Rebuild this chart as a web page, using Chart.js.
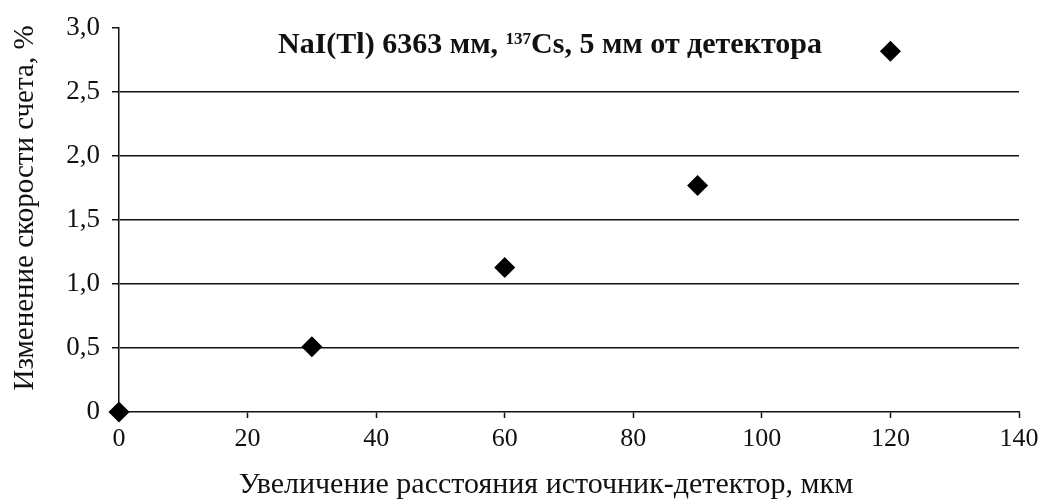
<!DOCTYPE html>
<html>
<head>
<meta charset="utf-8">
<script src="https://cdn.jsdelivr.net/npm/chart.js@4/dist/chart.umd.min.js"></script>
<style>
  html, body { margin: 0; padding: 0; background: #fff; }
  #wrap { width: 1047px; height: 501px; position: relative; }
</style>
</head>
<body>
<div id="wrap"><canvas id="c"></canvas></div>
<script>
const xValues = [0, 30, 60, 90, 120];
const yValues = [0, 0.51, 1.13, 1.77, 2.82];
const xTicks = [0, 20, 40, 60, 80, 100, 120, 140];
const yTicks = [0, 0.5, 1.0, 1.5, 2.0, 2.5, 3.0];
const titleMain = 'NaI(Tl) 6363 мм, ';
const titleSup = '137';
const titleRest = 'Cs, 5 мм от детектора';
const xTitle = 'Увеличение расстояния источник-детектор, мкм';
const yTitle = 'Изменение скорости счета, %';

const SERIF = '"Liberation Serif", "DejaVu Serif", serif';

const textPlugin = {
  id: 'texts',
  afterDraw(chart) {
    const ctx = chart.ctx;
    ctx.save();
    ctx.fillStyle = '#111';
    ctx.textBaseline = 'alphabetic';
    // inner title
    const big = 'bold 30px ' + SERIF;
    const small = 'bold 17px ' + SERIF;
    ctx.font = big;
    const w1 = ctx.measureText(titleMain).width;
    const w3 = ctx.measureText(titleRest).width;
    ctx.font = small;
    const w2 = ctx.measureText(titleSup).width;
    const total = w1 + w2 + w3;
    const cx = 550, by = 53;
    let x = cx - total / 2;
    ctx.textAlign = 'left';
    ctx.font = big;
    ctx.fillText(titleMain, x, by); x += w1;
    ctx.font = small;
    ctx.fillText(titleSup, x, by - 9); x += w2;
    ctx.font = big;
    ctx.fillText(titleRest, x, by);
    // axis titles
    ctx.textAlign = 'center';
    ctx.font = '30px ' + SERIF;
    ctx.fillText(xTitle, 546, 493);
    ctx.font = '29px ' + SERIF;
    ctx.translate(33, 208);
    ctx.rotate(-Math.PI / 2);
    ctx.fillText(yTitle, 0, 0);
    ctx.restore();
  }
};

new Chart(document.getElementById('c'), {
  type: 'scatter',
  data: {
    datasets: [{
      data: xValues.map((x, i) => ({ x: x, y: yValues[i] })),
      pointStyle: 'rectRot',
      pointRadius: 7,
      pointBorderWidth: 5,
      backgroundColor: '#000',
      borderColor: '#000',
      borderJoinStyle: 'round',
      showLine: false,
      clip: false
    }]
  },
  options: {
    responsive: true,
    maintainAspectRatio: false,
    animation: false,
    layout: { padding: { top: 24, right: 28, left: 0, bottom: 0 } },
    plugins: { legend: { display: false }, tooltip: { enabled: false }, title: { display: false } },
    scales: {
      x: {
        type: 'linear',
        min: 0, max: 140,
        afterBuildTicks(s) { s.ticks = xTicks.map(v => ({ value: v })); },
        afterFit(s) { s.height = 89; },
        border: { display: true, color: '#111', width: 1.5 },
        grid: { drawOnChartArea: false, drawTicks: true, tickLength: 6, tickColor: '#111', tickWidth: 1.5 },
        ticks: { color: '#111', font: { family: SERIF, size: 26 }, padding: 6, maxRotation: 0, autoSkip: false },
        title: { display: false }
      },
      y: {
        type: 'linear',
        min: 0, max: 3,
        afterBuildTicks(s) { s.ticks = yTicks.map(v => ({ value: v })); },
        afterFit(s) { s.width = 119; },
        border: { display: true, color: '#111', width: 1.5 },
        grid: {
          drawOnChartArea: true, drawTicks: true, tickLength: 7, tickColor: '#111', tickWidth: 1.5,
          color: (c) => (c.tick && (c.tick.value === 0 || c.tick.value === 3)) ? 'rgba(0,0,0,0)' : '#111',
          lineWidth: 1.5
        },
        ticks: {
          color: '#111', font: { family: SERIF, size: 27 }, padding: 12,
          callback: (v) => v === 0 ? '0' : v.toFixed(1).replace('.', ',')
        },
        title: { display: false }
      }
    }
  },
  plugins: [textPlugin]
});
</script>
</body>
</html>
